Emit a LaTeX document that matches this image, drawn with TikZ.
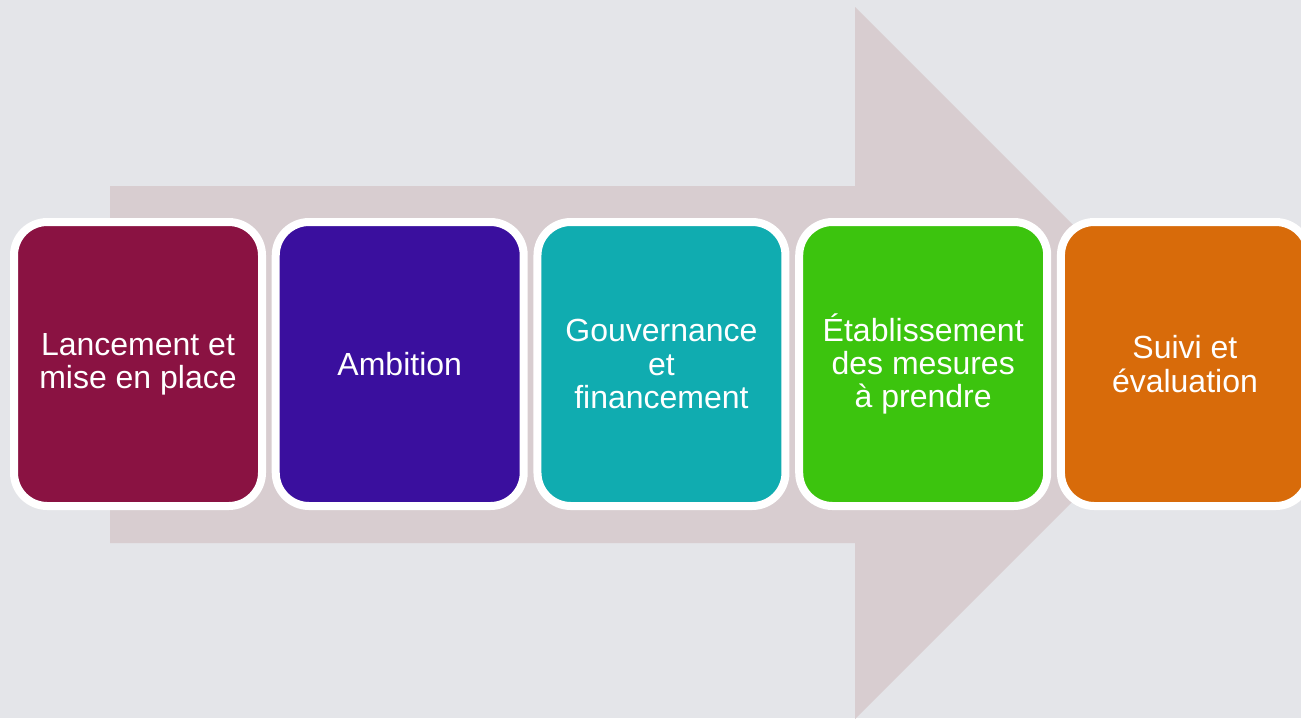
\documentclass[tikz,border=0pt]{standalone}
\usepackage{fontspec}
\setmainfont{Liberation Sans}
\usetikzlibrary{positioning,shadows}

\definecolor{bgcol}{HTML}{E4E5E9}
\definecolor{arrowcol}{HTML}{D8CDD0}
\definecolor{stepone}{HTML}{8A1242}
\definecolor{steptwo}{HTML}{3A0F9E}
\definecolor{stepthree}{HTML}{10ACB0}
\definecolor{stepfour}{HTML}{3CC40E}
\definecolor{stepfive}{HTML}{D86B0A}

\begin{document}
\begin{tikzpicture}[x=0.75pt, y=-0.75pt, node distance=4.3pt,
      every node/.style = {shape=rectangle, rounded corners=25pt,
        draw=white, line width=6pt, align=center, text=white,
        minimum width=186pt, minimum height=213pt, inner sep=0pt,
        font=\fontsize{24}{25}\selectfont,
        drop shadow={shadow xshift=1.5pt, shadow yshift=-2pt, opacity=.25}}]
    \useasboundingbox (0,0) rectangle (1301,718);
    \clip (0,0) rectangle (1301,718);
    \fill[bgcol] (0,0) rectangle (1301,718);
    % big arrow behind the steps
    \fill[arrowcol] (110,186) -- (855,186) -- (855,7) -- (1211,363)
      -- (855,719) -- (855,543) -- (110,543) -- cycle;
    \node[fill=stepone] (lancement) at (138,364) {Lancement et\\mise en place};
    \node[fill=steptwo, right=of lancement] (ambition) {Ambition};
    \node[fill=stepthree, right=of ambition] (gouvernance) {Gouvernance\\et\\financement};
    \node[fill=stepfour, right=of gouvernance] (mesures) {Établissement\\des mesures\\à prendre};
    \node[fill=stepfive, right=of mesures] (suivi) {Suivi et\\évaluation};
  \end{tikzpicture}
\end{document}
